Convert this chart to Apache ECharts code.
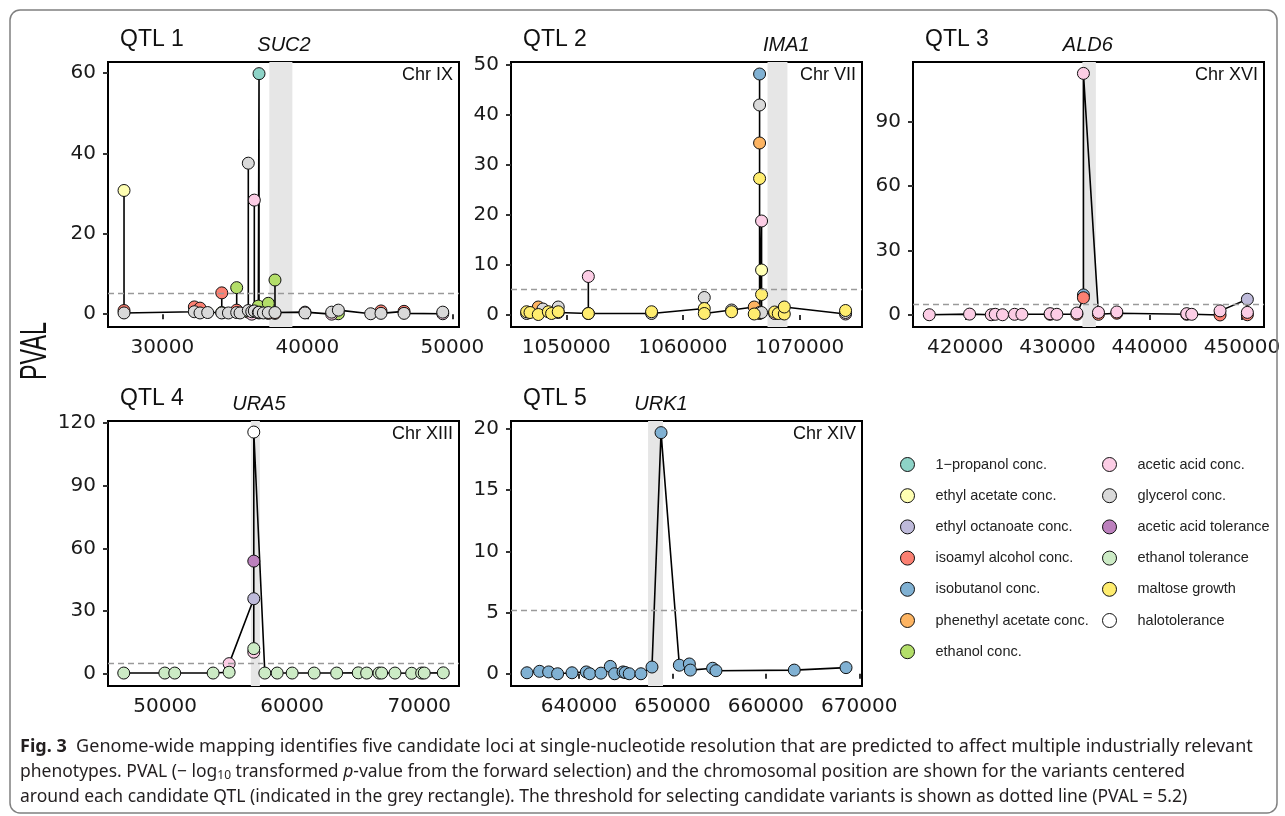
<!DOCTYPE html>
<html>
<head>
<meta charset="utf-8">
<script src="https://cdn.jsdelivr.net/npm/echarts@6/dist/echarts.min.js"></script>
<style>
  html, body { margin: 0; padding: 0; background: #fff; }
  #chart { width: 1285px; height: 816px; }
</style>
</head>
<body>
<div id="chart"></div>
<script>
// phenotypes (legend order) and their Set3 colours
const traitNames = [
  "1\u2212propanol conc.", "ethyl acetate conc.", "ethyl octanoate conc.",
  "isoamyl alcohol conc.", "isobutanol conc.", "phenethyl acetate conc.",
  "ethanol conc.", "acetic acid conc.", "glycerol conc.",
  "acetic acid tolerance", "ethanol tolerance", "maltose growth", "halotolerance"
];
const traitColors = [
  "#8DD3C7", "#FFFFB3", "#BEBADA", "#FB8072", "#80B1D3", "#FDB462",
  "#B3DE69", "#FCCDE5", "#D9D9D9", "#BC80BD", "#CCEBC5", "#FFED6F", "#FFFFFF"
];

// QTL 1 - Chr IX (SUC2)
const q1Pos = [27360, 27360, 27360, 32210, 32210, 32600, 32600, 33130, 34100, 34100, 34100, 34560,
  35130, 35130, 35130, 35360, 35930, 35930, 35930, 36170, 36170, 36345, 36345, 36345, 36620, 36620,
  36670, 36670, 36670, 36970, 37310, 37310, 37310, 37770, 37770, 37770, 39840, 39840, 41680, 41680,
  42140, 42140, 44370, 45080, 45080, 46670, 46670, 49340, 49340];
const q1Pval = [0.9, 30.8, 0.3, 0.6, 1.8, 1.5, 0.3, 0.4, 0.4, 5.3, 0.3, 0.3,
  1.0, 6.6, 0.4, 0.3, 0.5, 37.6, 0.9, 0.0, 0.6, 0.5, 28.4, 0.8, 2.0, 0.4,
  0.3, 59.9, 0.5, 0.3, 0.2, 2.7, 0.4, 0.2, 8.5, 0.4, 0.5, 0.3, 0.0, 0.5,
  0.1, 1.0, 0.1, 0.8, 0.2, 0.7, 0.2, 0.1, 0.5];
const q1Trait = [3, 1, 8, 8, 3, 3, 8, 8, 6, 3, 8, 8,
  3, 6, 8, 8, 6, 8, 8, 7, 8, 6, 7, 8, 6, 8,
  3, 0, 8, 8, 3, 6, 8, 3, 6, 8, 7, 8, 7, 8,
  6, 8, 8, 3, 8, 3, 8, 7, 8];

// QTL 2 - Chr VII (IMA1)
const q2Pos = [1046600, 1046600, 1046890, 1047600, 1047600, 1048000, 1048460, 1048740, 1049310, 1049310,
  1049310, 1051890, 1051890, 1051890, 1057310, 1057310, 1061830, 1061830, 1061830, 1064170, 1064170,
  1066110, 1066110, 1066570, 1066570, 1066570, 1066570, 1066570, 1066570, 1066740, 1066740, 1066740,
  1066740, 1067860, 1067860, 1068170, 1068690, 1068690, 1073940, 1073940, 1073940];
const q2Pval = [0.3, 0.65, 0.5, 1.6, 0.1, 1.2, 0.65, 0.3, 1.6, 0.5,
  0.65, 0.3, 7.7, 0.3, 0.3, 0.65, 1.3, 3.5, 0.3, 1.0, 0.65,
  1.6, 0.2, 0.5, 48.2, 42.0, 34.4, 27.3, 0.3, 18.8, 9.0, 4.1,
  0.5, 0.3, 0.6, 0.3, 0.2, 1.6, 0.2, 0.5, 0.9];
const q2Trait = [8, 11, 11, 5, 11, 8, 11, 11, 8, 7,
  11, 8, 7, 11, 8, 11, 11, 8, 11, 8, 11,
  5, 11, 8, 4, 8, 5, 11, 5, 7, 1, 11,
  8, 7, 11, 11, 11, 11, 7, 8, 11];

// QTL 3 - Chr XVI (ALD6)
const q3Pos = [416100, 420470, 422820, 423250, 424040, 425340, 426140, 429200, 429200, 429930,
  432100, 432100, 432810, 432810, 432810, 434440, 434440, 436430, 436430, 444010, 444010, 444550,
  447620, 447620, 450580, 450580, 450580];
const q3Pval = [0.1, 0.4, 0.1, 0.3, 0.1, 0.3, 0.3, 0.3, 0.6, 0.3,
  0.3, 0.9, 8.0, 9.3, 112.3, 0.3, 1.2, 0.8, 1.4, 0.3, 0.6, 0.3,
  0.0, 1.9, 7.3, 0.1, 1.2];
const q3Trait = [7, 7, 7, 7, 7, 7, 7, 3, 7, 7,
  3, 7, 3, 4, 7, 3, 7, 3, 7, 3, 7, 7,
  3, 7, 2, 3, 7];

// QTL 4 - Chr XIII (URA5)
const q4Pos = [46750, 49980, 50760, 53780, 55040, 55040, 56980, 56980, 56980, 56980, 56980,
  57850, 58820, 60000, 61730, 63500, 65200, 65860, 66830, 67040, 68090, 69400, 70190, 70390, 71890];
const q4Pval = [0.3, 0.3, 0.3, 0.3, 0.7, 4.8, 35.9, 12.0, 10.3, 53.9, 115.7,
  0.3, 0.3, 0.3, 0.3, 0.3, 0.4, 0.3, 0.3, 0.3, 0.3, 0.2, 0.3, 0.3, 0.4];
const q4Trait = [10, 10, 10, 10, 10, 7, 2, 10, 7, 9, 12,
  10, 10, 10, 10, 10, 10, 10, 10, 10, 10, 10, 10, 10, 10];

// QTL 5 - Chr XIV (URK1)
const q5Pos = [634430, 635780, 636750, 637710, 639250, 640780, 641140, 642350, 643350, 643810,
  644710, 644950, 645380, 646630, 647810, 648780, 650740, 651810, 651920, 654300, 654660, 663040, 668580];
const q5Pval = [0.08, 0.2, 0.15, 0.0, 0.08, 0.15, 0.0, 0.05, 0.6, 0.0,
  0.15, 0.1, 0.0, 0.0, 0.55, 19.7, 0.7, 0.8, 0.3, 0.45, 0.25, 0.3, 0.5];
const q5Trait = [4, 4, 4, 4, 4, 4, 4, 4, 4, 4, 4, 4, 4, 4, 4, 4, 4, 4, 4, 4, 4, 4, 4];

const qtlLabels = ["QTL 1", "QTL 2", "QTL 3", "QTL 4", "QTL 5"];
const geneNames = ["SUC2", "IMA1", "ALD6", "URA5", "URK1"];
const geneCenters = [38390, 1068860, 433290, 57380, 648780];
const chrLabels = ["Chr IX", "Chr VII", "Chr XVI", "Chr XIII", "Chr XIV"];
const rectStart = [37380, 1067250, 432700, 56750, 647390];
const rectEnd = [38970, 1068960, 434160, 57460, 648990];
const threshold = 5.2;

const xTicks = [
  [30000, 40000, 50000],
  [1050000, 1060000, 1070000],
  [420000, 430000, 440000, 450000],
  [50000, 60000, 70000],
  [640000, 650000, 660000, 670000]
];
const yTicks = [
  [0, 20, 40, 60],
  [0, 10, 20, 30, 40, 50],
  [0, 30, 60, 90],
  [0, 30, 60, 90, 120],
  [0, 5, 10, 15, 20]
];
const xRange = [[26255, 50460], [1045260, 1075350], [414336, 452383], [45510, 73126], [632720, 670290]];
const yRange = [[-3.2, 62.8], [-2.4, 50.6], [-5.6, 117.6], [-5.9, 121], [-1.0, 20.65]];

const panels = [
  [q1Pos, q1Pval, q1Trait, [3, 6, 7, 1, 0, 8]],
  [q2Pos, q2Pval, q2Trait, [7, 5, 8, 1, 4, 11]],
  [q3Pos, q3Pval, q3Trait, [4, 3, 2, 7]],
  [q4Pos, q4Pval, q4Trait, [7, 2, 9, 10, 12]],
  [q5Pos, q5Pval, q5Trait, [4]]
];

const gridLeft = [108, 511, 913, 108, 511];
const gridTop = [62, 62, 62, 421, 421];
const gridW = 351, gridH = 265;

const tickFont = "DejaVu Sans";
const grids = [], xAxes = [], yAxes = [], series = [];

panels.forEach(([pos, pval, trait, order], k) => {
  grids.push({
    left: gridLeft[k], top: gridTop[k], width: gridW, height: gridH,
    show: true, borderColor: "#000", borderWidth: 2, backgroundColor: "transparent",
    outerBoundsMode: "none"
  });
  xAxes.push({
    type: "value", gridIndex: k, min: xRange[k][0], max: xRange[k][1],
    axisLine: { show: false }, splitLine: { show: false },
    axisTick: { show: true, length: 5, customValues: xTicks[k], lineStyle: { color: "#333", width: 2 } },
    axisLabel: { customValues: xTicks[k], formatter: v => String(v), fontSize: 20, fontFamily: tickFont, color: "#1a1a1a", margin: 11 }
  });
  yAxes.push({
    type: "value", gridIndex: k, min: yRange[k][0], max: yRange[k][1],
    axisLine: { show: false }, splitLine: { show: false },
    axisTick: { show: true, length: 5, customValues: yTicks[k], lineStyle: { color: "#333", width: 2 } },
    axisLabel: { customValues: yTicks[k], fontSize: 20, fontFamily: tickFont, color: "#1a1a1a", margin: 12 }
  });

  const pts = pos.map((x, i) => [x, pval[i]]);
  // grey rectangle around the candidate QTL
  series.push({
    type: "line", xAxisIndex: k, yAxisIndex: k, data: [], z: 1, silent: true,
    markArea: { silent: true, itemStyle: { color: "#E6E6E6" }, data: [[{ xAxis: rectStart[k] }, { xAxis: rectEnd[k] }]] }
  });
  series.push({
    type: "line", xAxisIndex: k, yAxisIndex: k, data: pts, symbol: "none", showSymbol: false,
    lineStyle: { color: "#000", width: 1.6 }, z: 3, silent: true,
    markLine: {
      silent: true, symbol: ["none", "none"], label: { show: false },
      lineStyle: { color: "#9a9a9a", type: [6, 4], width: 1.3 },
      data: [{ yAxis: threshold }]
    }
  });
  order.forEach(t => {
    series.push({
      type: "scatter", name: traitNames[t], xAxisIndex: k, yAxisIndex: k, z: 4,
      data: pts.filter((p, i) => trait[i] === t),
      symbol: "circle", symbolSize: 12,
      itemStyle: { color: traitColors[t], borderColor: "#111", borderWidth: 1, opacity: 1 }
    });
  });
});

const legendCommon = {
  orient: "vertical", top: 452, itemWidth: 46, itemHeight: 14, itemGap: 16.2,
  icon: "circle", selectedMode: false,
  itemStyle: { borderColor: "#111", borderWidth: 1 },
  textStyle: { fontSize: 14.5, fontFamily: "Liberation Sans", color: "#222", lineHeight: 14 }
};

const chart = echarts.init(document.getElementById("chart"));
chart.setOption({
  animation: false,
  backgroundColor: "#fff",
  grid: grids, xAxis: xAxes, yAxis: yAxes, series: series,
  legend: [
    Object.assign({ left: 895, data: traitNames.slice(0, 7) }, legendCommon),
    Object.assign({ left: 1097, data: traitNames.slice(7) }, legendCommon)
  ]
});

// texts around the panels
const graphics = [
  {
    type: "rect", shape: { x: 10, y: 10, width: 1267, height: 803, r: 10 },
    style: { fill: "none", stroke: "#808080", lineWidth: 1.5 }, z: 100
  },
  {
    type: "text", x: 36, y: 351, rotation: Math.PI / 2, scaleX: 0.63,
    style: { text: "PVAL", fontSize: 37, fontFamily: "Liberation Sans", fill: "#111", align: "center", verticalAlign: "middle" }
  }
];
for (let k = 0; k < 5; k++) {
  const gx = chart.convertToPixel({ xAxisIndex: k }, geneCenters[k]);
  graphics.push({
    type: "text", x: gridLeft[k] + 12, y: gridTop[k] - 22,
    style: { text: qtlLabels[k], fontSize: 23, fontFamily: "Liberation Sans", fill: "#111", verticalAlign: "middle" }
  });
  graphics.push({
    type: "text", x: gx, y: gridTop[k] - 17,
    style: { text: geneNames[k], fontSize: 20, fontStyle: "italic", fontFamily: "Liberation Sans", fill: "#111", align: "center", verticalAlign: "middle" }
  });
  graphics.push({
    type: "text", x: gridLeft[k] + gridW - 6, y: gridTop[k] + 13,
    style: { text: chrLabels[k], fontSize: 18, fontFamily: "Liberation Sans", fill: "#111", align: "right", verticalAlign: "middle" }
  });
}

const capFont = "Noto Sans";
const capSize = 17.5;
const capRich = {
  b: { fontWeight: "bold", fontSize: capSize, fontFamily: capFont, fill: "#231f20" },
  sub: { fontSize: 12, fontFamily: capFont, fill: "#231f20", verticalAlign: "bottom", padding: [7, 0, 0, 0] },
  i: { fontStyle: "italic", fontSize: capSize, fontFamily: capFont, fill: "#231f20" }
};
const captionLines = [
  "{b|Fig. 3}  Genome-wide mapping identifies five candidate loci at single-nucleotide resolution that are predicted to affect multiple industrially relevant",
  "phenotypes. PVAL (\u2212 log{sub|10} transformed {i|p}-value from the forward selection) and the chromosomal position are shown for the variants centered",
  "around each candidate QTL (indicated in the grey rectangle). The threshold for selecting candidate variants is shown as dotted line (PVAL = 5.2)"
];
captionLines.forEach((line, i) => {
  graphics.push({
    type: "text", x: 20, y: 747 + i * 25, scaleX: i === 0 ? 1.03 : 1,
    style: { text: line, rich: capRich, fontSize: capSize, fontFamily: capFont, fill: "#231f20", verticalAlign: "middle" }
  });
});

chart.setOption({ graphic: graphics });
</script>
</body>
</html>
